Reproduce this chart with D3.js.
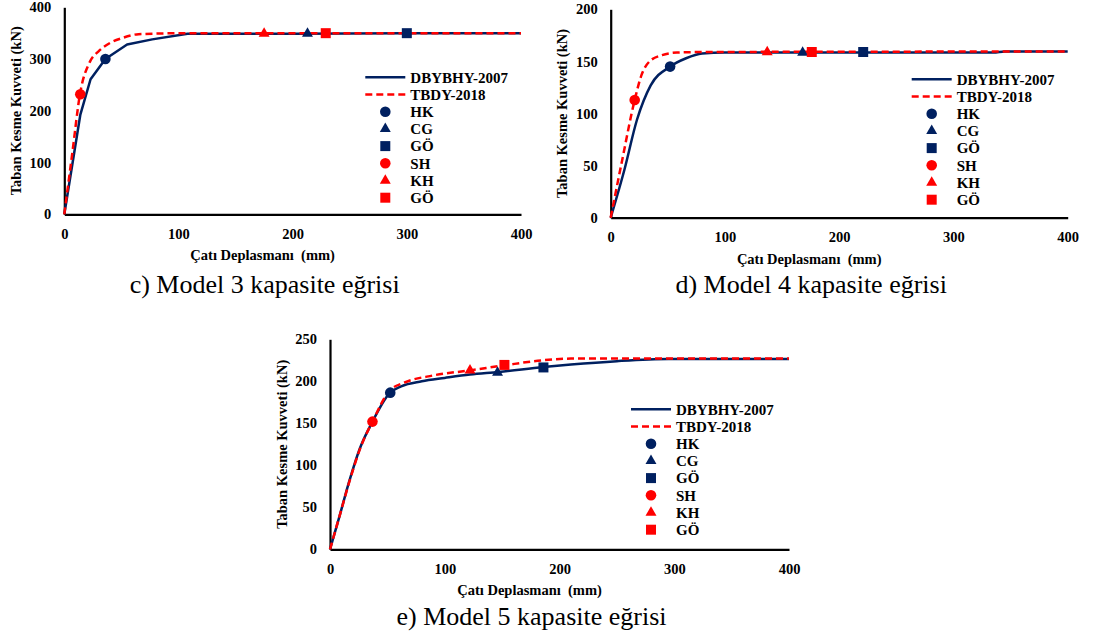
<!DOCTYPE html>
<html>
<head>
<meta charset="utf-8">
<script src="https://cdn.jsdelivr.net/npm/d3@7"></script>
<style>
  body { margin: 0; background: #fff; }
  svg { display: block; font-family: "Liberation Serif", "Times New Roman", serif; }
</style>
</head>
<body>
<svg id="the-chart"></svg>
<script>
// Specify the dimensions of the page.
const width = 1095;
const height = 639;
const FONT = '"Liberation Serif", "Times New Roman", serif';

// Data ---------------------------------------------------------------------

const xTickValues = [0, 100, 200, 300, 400];
const seriesNames = ["DBYBHY-2007", "TBDY-2018"];
const markerNames = ["HK", "CG", "GÖ", "SH", "KH", "GÖ"];

// Model 3
const m3YTicks = [0, 100, 200, 300, 400];
const m3OldX = [0, 14, 23, 36, 55, 77, 108, 200, 300, 400];
const m3OldY = [0, 192, 261, 300, 328, 338, 349, 349, 350, 350];
const m3NewX = [0, 7, 13.7, 22.5, 30, 40, 50, 65, 105, 400];
const m3NewY = [0, 118, 232, 295, 315, 331, 340, 348, 350, 350];
const m3MarkX = [36, 213, 300, 14, 175, 229];
const m3MarkY = [300, 349, 350, 232, 349, 350];

// Model 4
const m4YTicks = [0, 50, 100, 150, 200];
const m4OldX = [0, 12, 23, 35, 52, 66, 80, 100, 200, 335, 345, 400];
const m4OldY = [0, 46, 94, 127, 145, 153, 157.5, 158.5, 158.5, 158.5, 159.5, 159.5];
const m4NewX = [0, 10, 21, 27, 34, 45, 58, 80, 400];
const m4NewY = [0, 55, 113, 137, 150, 156, 158.5, 159, 159.5];
const m4MarkX = [52, 168, 221, 21, 137, 176];
const m4MarkY = [145, 158.5, 159, 113, 159, 159];

// Model 5
const m5YTicks = [0, 50, 100, 150, 200, 250];
const m5OldX = [0, 8, 17, 26, 37, 52, 62, 80, 100, 122, 147, 186, 210, 250, 295, 400];
const m5OldY = [0, 38, 82, 120, 152, 186, 194, 200, 204, 208, 211, 217, 220, 224, 226.5, 226.5];
const m5NewX = [0, 8, 17, 26, 37, 52, 64, 90, 122, 152, 185, 210, 250, 400];
const m5NewY = [0, 38, 81, 119, 152, 189, 198, 207, 213, 219, 225, 227, 227, 227];
const m5MarkX = [52.5, 146, 186, 37, 122, 152];
const m5MarkY = [186.5, 210.5, 216.5, 152, 213, 219.5];

// Visual constants ---------------------------------------------------------

const BLUE = '#002060';
const RED = '#ff0000';
const LINE_WIDTH = 2.5;
const DASH = '7,4';
const MARKER_COLORS = [BLUE, BLUE, BLUE, RED, RED, RED];
const MARKER_SHAPES = [d3.symbolCircle, d3.symbolTriangle, d3.symbolSquare,
                       d3.symbolCircle, d3.symbolTriangle, d3.symbolSquare];
const MARKER_SIZES = [88, 52, 100, 88, 52, 100];

const panels = [
    {
        caption: "c) Model 3 kapasite eğrisi",
        yMax: 400, yTicks: m3YTicks,
        oldX: m3OldX, oldY: m3OldY, newX: m3NewX, newY: m3NewY,
        markX: m3MarkX, markY: m3MarkY,
        oldCurve: d3.curveLinear, newCurve: d3.curveMonotoneX,
        left: 64.3, right: 521, top: 7.3, bottom: 214.3, captionY: 293
    },
    {
        caption: "d) Model 4 kapasite eğrisi",
        yMax: 200, yTicks: m4YTicks,
        oldX: m4OldX, oldY: m4OldY, newX: m4NewX, newY: m4NewY,
        markX: m4MarkX, markY: m4MarkY,
        oldCurve: d3.curveMonotoneX, newCurve: d3.curveMonotoneX,
        left: 610.7, right: 1067.7, top: 9.3, bottom: 217.7, captionY: 293
    },
    {
        caption: "e) Model 5 kapasite eğrisi",
        yMax: 250, yTicks: m5YTicks,
        oldX: m5OldX, oldY: m5OldY, newX: m5NewX, newY: m5NewY,
        markX: m5MarkX, markY: m5MarkY,
        oldCurve: d3.curveMonotoneX, newCurve: d3.curveMonotoneX,
        left: 330, right: 789, top: 339.3, bottom: 549.3, captionY: 625
    }
];

const svg = d3.select('#the-chart')
    .attr('width', width)
    .attr('height', height)
    .attr('viewBox', [0, 0, width, height])
    .attr('font-family', FONT);

panels.forEach(drawPanel);

function drawPanel(p) {
    const x = d3.scaleLinear().domain([0, 400]).range([p.left, p.right]);
    const y = d3.scaleLinear().domain([0, p.yMax]).range([p.bottom, p.top]);
    const g = svg.append('g');

    // Axes
    const yAxis = g.append('g')
        .attr('transform', `translate(${p.left},0)`)
        .call(d3.axisLeft(y).tickValues(p.yTicks).tickSize(0).tickPadding(13));
    const xAxis = g.append('g')
        .attr('transform', `translate(0,${p.bottom})`)
        .call(d3.axisBottom(x).tickValues(xTickValues).tickSize(0).tickPadding(14));
    [xAxis, yAxis].forEach(a => {
        a.attr('font-family', FONT);
        a.select('.domain').attr('stroke', '#000').attr('stroke-width', 2.2);
        a.selectAll('text')
            .attr('fill', '#000')
            .attr('font-weight', 'bold')
            .attr('font-size', 14.5);
    });

    // Axis titles
    g.append('text')
        .attr('transform', `translate(${p.left - 48.5},${(p.top + p.bottom) / 2}) rotate(-90)`)
        .attr('text-anchor', 'middle')
        .attr('dy', '0.35em')
        .attr('font-weight', 'bold')
        .attr('font-size', 14.5)
        .text('Taban Kesme Kuvveti (kN)');
    g.append('text')
        .attr('x', (p.left + p.right) / 2 - 30)
        .attr('y', p.bottom + 46)
        .attr('text-anchor', 'middle')
        .attr('font-weight', 'bold')
        .attr('font-size', 14.5)
        .attr('xml:space', 'preserve')
        .text('Çatı Deplasmanı  (mm)');

    // Curves
    const oldLine = d3.line().curve(p.oldCurve).x(d => x(d[0])).y(d => y(d[1]));
    const newLine = d3.line().curve(p.newCurve).x(d => x(d[0])).y(d => y(d[1]));
    g.append('path')
        .datum(d3.zip(p.oldX, p.oldY))
        .attr('fill', 'none')
        .attr('stroke', BLUE)
        .attr('stroke-width', LINE_WIDTH)
        .attr('stroke-linejoin', 'round')
        .attr('d', oldLine);
    g.append('path')
        .datum(d3.zip(p.newX, p.newY))
        .attr('fill', 'none')
        .attr('stroke', RED)
        .attr('stroke-width', LINE_WIDTH)
        .attr('stroke-dasharray', DASH)
        .attr('d', newLine);

    // Performance markers
    g.append('g')
        .selectAll('path')
        .data(d3.range(markerNames.length))
        .join('path')
            .attr('transform', i => `translate(${x(p.markX[i])},${y(p.markY[i])})`)
            .attr('fill', i => MARKER_COLORS[i])
            .attr('d', i => d3.symbol(MARKER_SHAPES[i], MARKER_SIZES[i])());

    // Legend
    const lx = p.left + 301;
    const ly = p.top + 70;
    const rowH = 17.2;
    const legend = g.append('g');
    [BLUE, RED].forEach((c, i) => {
        legend.append('line')
            .attr('x1', lx).attr('x2', lx + 40)
            .attr('y1', ly + i * rowH).attr('y2', ly + i * rowH)
            .attr('stroke', c)
            .attr('stroke-width', LINE_WIDTH)
            .attr('stroke-dasharray', i === 1 ? DASH : null);
    });
    markerNames.forEach((name, i) => {
        legend.append('path')
            .attr('transform', `translate(${lx + 20},${ly + (i + 2) * rowH})`)
            .attr('fill', MARKER_COLORS[i])
            .attr('d', d3.symbol(MARKER_SHAPES[i], MARKER_SIZES[i])());
    });
    seriesNames.concat(markerNames).forEach((name, i) => {
        legend.append('text')
            .attr('x', lx + 45)
            .attr('y', ly + i * rowH)
            .attr('dy', '0.35em')
            .attr('font-weight', 'bold')
            .attr('font-size', 15)
            .text(name);
    });

    // Caption
    g.append('text')
        .attr('x', (p.left + p.right) / 2 - 28)
        .attr('y', p.captionY)
        .attr('text-anchor', 'middle')
        .attr('font-size', 26)
        .text(p.caption);
}
</script>
</body>
</html>
